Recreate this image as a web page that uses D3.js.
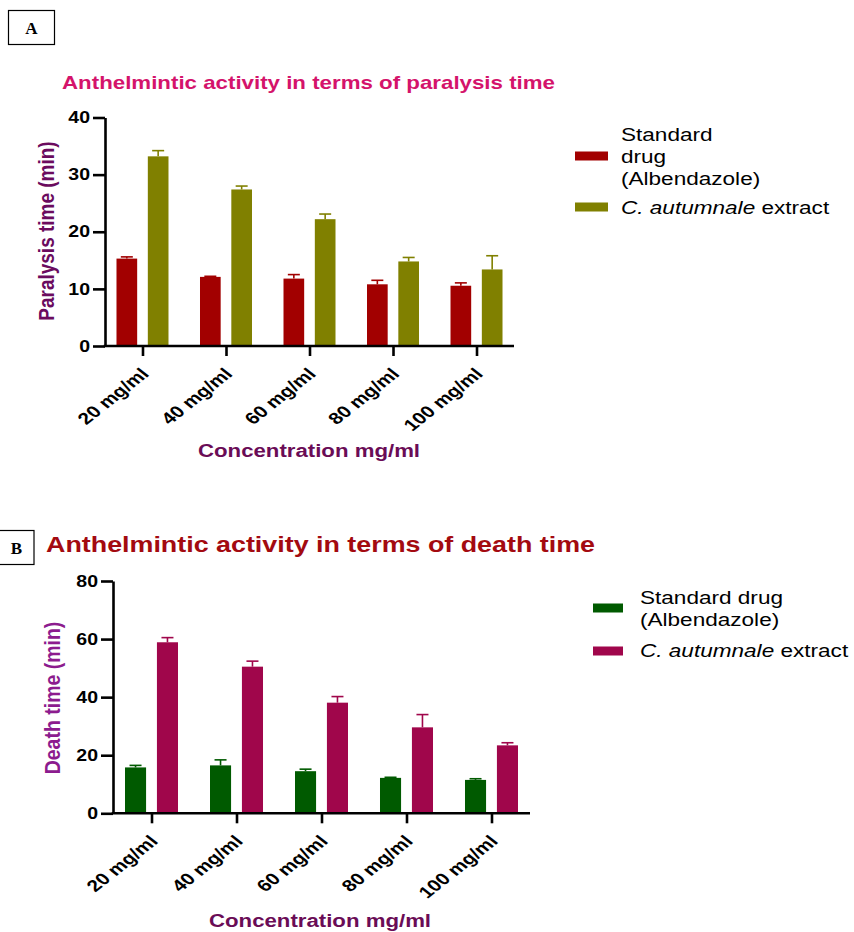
<!DOCTYPE html>
<html>
<head>
<meta charset="utf-8">
<script src="https://cdn.jsdelivr.net/npm/d3@7"></script>
<style>
  html, body { margin: 0; padding: 0; background: #ffffff; }
  svg { display: block; }
  text { font-family: "Liberation Sans", Arial, sans-serif; }
</style>
</head>
<body>
<svg id="chart" width="854" height="932"></svg>
<script>
// Concentrations tested
const categories = ["20 mg/ml", "40 mg/ml", "60 mg/ml", "80 mg/ml", "100 mg/ml"];

// Paralysis time (min), mean and upper error
const paralysisStandard = [15.3, 12.1, 11.8, 10.8, 10.55];
const paralysisStandardErr = [0.3, 0.1, 0.7, 0.7, 0.5];
const paralysisExtract = [33.2, 27.4, 22.2, 14.8, 13.4];
const paralysisExtractErr = [1.0, 0.6, 0.9, 0.7, 2.4];

// Death time (min), mean and upper error
const deathStandard = [15.8, 16.5, 14.5, 12.2, 11.5];
const deathStandardErr = [0.7, 1.9, 0.7, 0.2, 0.4];
const deathExtract = [58.9, 50.5, 38.1, 29.6, 23.4];
const deathExtractErr = [1.6, 1.9, 2.1, 4.4, 0.9];

// Axis ticks
const paralysisTicks = [0, 10, 20, 30, 40];
const deathTicks = [0, 20, 40, 60, 80];

// Text in this figure is set in a wide grotesque; a horizontal stretch
// of the regular sans gives the same proportions.
const WIDE = 1.22;

const svg = d3.select("#chart");

function drawPanel(cfg) {
  const g = svg.append("g");

  const x = d3.scalePoint()
    .domain(categories)
    .range([cfg.left, cfg.right])
    .padding(cfg.outerPad);

  const sub = d3.scaleBand()
    .domain([0, 1])
    .range([-cfg.groupWidth / 2, cfg.groupWidth / 2])
    .paddingInner(0.34)
    .paddingOuter(0);

  const y = d3.scaleLinear()
    .domain([0, cfg.yMax])
    .range([cfg.bottom, cfg.top]);

  const series = [
    { values: cfg.s1, errs: cfg.e1, color: cfg.c1 },
    { values: cfg.s2, errs: cfg.e2, color: cfg.c2 }
  ];

  // bars with upward error bars
  series.forEach((s, si) => {
    const sg = g.append("g");
    sg.selectAll("rect")
      .data(categories)
      .join("rect")
      .attr("x", (c) => x(c) + sub(si))
      .attr("width", sub.bandwidth())
      .attr("y", (c, i) => y(s.values[i]))
      .attr("height", (c, i) => y(0) - y(s.values[i]))
      .attr("fill", s.color);

    const cx = (c) => x(c) + sub(si) + sub.bandwidth() / 2;
    sg.selectAll("line.err")
      .data(categories)
      .join("line")
      .attr("class", "err")
      .attr("x1", cx).attr("x2", cx)
      .attr("y1", (c, i) => y(s.values[i]))
      .attr("y2", (c, i) => y(s.values[i] + s.errs[i]))
      .attr("stroke", s.color)
      .attr("stroke-width", 1.6);
    sg.selectAll("line.cap")
      .data(categories)
      .join("line")
      .attr("class", "cap")
      .attr("x1", (c) => cx(c) - 6).attr("x2", (c) => cx(c) + 6)
      .attr("y1", (c, i) => y(s.values[i] + s.errs[i]))
      .attr("y2", (c, i) => y(s.values[i] + s.errs[i]))
      .attr("stroke", s.color)
      .attr("stroke-width", 1.6);
  });

  // y axis
  const yAxis = g.append("g")
    .attr("transform", `translate(${cfg.left},0)`)
    .call(d3.axisLeft(y).tickValues(cfg.ticks).tickSize(12).tickPadding(3).tickSizeOuter(0));
  yAxis.select(".domain").attr("stroke", "#000").attr("stroke-width", 2.6);
  yAxis.selectAll(".tick line").attr("stroke", "#000").attr("stroke-width", 2.6);
  yAxis.selectAll(".tick text")
    .attr("font-size", 16).attr("font-weight", "bold").attr("fill", "#000")
    .attr("x", 0)
    .attr("transform", `translate(-15,0) scale(${WIDE},1)`);

  // x axis
  const xAxis = g.append("g")
    .attr("transform", `translate(0,${cfg.bottom})`)
    .call(d3.axisBottom(x).tickSize(10).tickSizeOuter(0));
  xAxis.select(".domain").attr("stroke", "#000").attr("stroke-width", 2.6)
    .attr("d", `M${cfg.left - 1.3},0H${cfg.right}`);
  xAxis.selectAll(".tick line").attr("stroke", "#000").attr("stroke-width", 2.6);
  xAxis.selectAll(".tick text")
    .attr("font-size", 16.5).attr("font-weight", "bold").attr("fill", "#000")
    .attr("text-anchor", "end")
    .attr("dy", null)
    .attr("y", 0)
    .attr("transform", "translate(7,29) scale(1.26,1) rotate(-45)");

  // axis titles
  g.append("text")
    .attr("transform", `translate(${cfg.yLabelX},${cfg.yLabelY}) scale(1.12,1) rotate(-90)`)
    .attr("text-anchor", "middle")
    .attr("font-size", cfg.yLabelSize).attr("font-weight", "bold")
    .attr("fill", cfg.yLabelColor)
    .text(cfg.yLabel);

  g.append("text")
    .attr("transform", `translate(${cfg.xLabelX},${cfg.xLabelY}) scale(1.17,1)`)
    .attr("text-anchor", "middle")
    .attr("font-size", 19).attr("font-weight", "bold")
    .attr("fill", "#6a0c56")
    .text("Concentration mg/ml");

  // legend
  const lg = g.append("g");
  cfg.legend.forEach((item) => {
    lg.append("rect")
      .attr("x", cfg.legendX).attr("y", item.sy - 4.5)
      .attr("width", cfg.swatchW).attr("height", 9)
      .attr("fill", item.color);
    const t = lg.append("text")
      .attr("transform", `translate(${cfg.legendX + cfg.textOffset},0) scale(${WIDE},1)`)
      .attr("font-size", 18.5).attr("fill", "#000");
    item.lines.forEach((ln, li) => {
      const ts = t.append("tspan").attr("x", 0).attr("y", item.ty + li * 22);
      if (Array.isArray(ln)) {
        ln.forEach((part) => {
          ts.append("tspan").attr("font-style", part.i ? "italic" : "normal").text(part.t);
        });
      } else {
        ts.text(ln);
      }
    });
  });
}

// panel badges
function badge(x0, y0, w, h, letter) {
  svg.append("rect").attr("x", x0).attr("y", y0).attr("width", w).attr("height", h)
    .attr("fill", "#fff").attr("stroke", "#000").attr("stroke-width", 1.2);
  svg.append("text").attr("x", x0 + w / 2).attr("y", y0 + h / 2 + 6)
    .attr("text-anchor", "middle")
    .style("font-family", "'Liberation Serif', 'Times New Roman', serif")
    .attr("font-size", 17).attr("font-weight", "bold").attr("fill", "#000")
    .text(letter);
}

badge(8.5, 10.5, 46, 34, "A");
badge(-1, 530.5, 35, 34, "B");

svg.append("text").attr("x", 62).attr("y", 89)
  .attr("font-size", 19).attr("font-weight", "bold").attr("fill", "#d4136b")
  .attr("textLength", 493).attr("lengthAdjust", "spacingAndGlyphs")
  .text("Anthelmintic activity in terms of paralysis time");

svg.append("text").attr("x", 46).attr("y", 552)
  .attr("font-size", 22).attr("font-weight", "bold").attr("fill", "#a30a10")
  .attr("textLength", 549).attr("lengthAdjust", "spacingAndGlyphs")
  .text("Anthelmintic activity in terms of death time");

drawPanel({
  left: 105, right: 514, top: 117.5, bottom: 346, yMax: 40,
  outerPad: 0.449, groupWidth: 52,
  s1: paralysisStandard, e1: paralysisStandardErr, c1: "#a20000",
  s2: paralysisExtract, e2: paralysisExtractErr, c2: "#808000",
  ticks: paralysisTicks,
  yLabel: "Paralysis time (min)", yLabelX: 54, yLabelY: 231, yLabelSize: 19, yLabelColor: "#6b0b5e",
  xLabelX: 309, xLabelY: 457,
  legendX: 575, swatchW: 33, textOffset: 46,
  legend: [
    { color: "#a20000", sy: 156, ty: 141, lines: ["Standard", "drug", "(Albendazole)"] },
    { color: "#808000", sy: 207, ty: 214, lines: [[{ t: "C. autumnale", i: true }, { t: " extract", i: false }]] }
  ]
});

drawPanel({
  left: 113, right: 530, top: 581, bottom: 813.3, yMax: 80,
  outerPad: 0.453, groupWidth: 53,
  s1: deathStandard, e1: deathStandardErr, c1: "#005a00",
  s2: deathExtract, e2: deathExtractErr, c2: "#a0064b",
  ticks: deathTicks,
  yLabel: "Death time (min)", yLabelX: 60, yLabelY: 698, yLabelSize: 19.5, yLabelColor: "#8c1c8e",
  xLabelX: 320, xLabelY: 927,
  legendX: 593, swatchW: 30, textOffset: 47,
  legend: [
    { color: "#005a00", sy: 608, ty: 604, lines: ["Standard drug", "(Albendazole)"] },
    { color: "#a0064b", sy: 651, ty: 657, lines: [[{ t: "C. autumnale", i: true }, { t: " extract", i: false }]] }
  ]
});
</script>
</body>
</html>
